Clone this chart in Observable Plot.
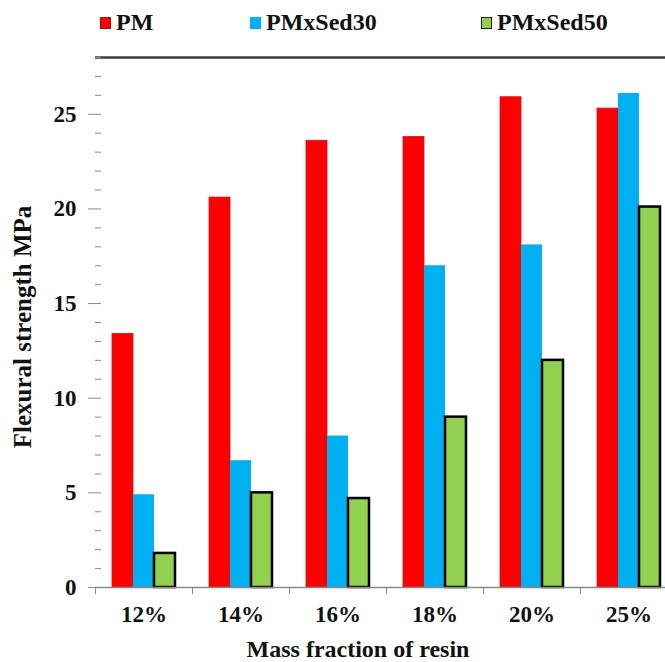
<!DOCTYPE html>
<html>
<head>
<meta charset="utf-8">
<script src="https://cdn.jsdelivr.net/npm/d3@7"></script>
<script src="https://cdn.jsdelivr.net/npm/@observablehq/plot@0.6"></script>
<style>
  html, body { margin: 0; padding: 0; background: #fff; overflow: hidden; }
  #wrap { position: relative; width: 665px; height: 662px; overflow: hidden; font-weight: bold; color: #111; }
  #chart svg { display: block; }
  .legend-item { position: absolute; top: 8px; font-size: 24px; line-height: 28px; white-space: nowrap; }
  .sw { display: inline-block; width: 11px; height: 12px; margin-right: 5px; vertical-align: 1px; box-sizing: border-box; }
  #ytitle { position: absolute; left: 23px; top: 327px; transform: translate(-50%, -50%) rotate(-90deg); font-size: 25px; white-space: nowrap; }
  #xtitle { position: absolute; left: 358px; top: 636px; transform: translateX(-50%); font-size: 24px; white-space: nowrap; }
</style>
</head>
<body>
<div id="wrap" style="font-family:'Liberation Serif'">
  <div id="chart"></div>
  <div id="legend"></div>
  <div id="ytitle" style="font-family:'Liberation Serif'"></div>
  <div id="xtitle" style="font-family:'Liberation Serif'"></div>
</div>
<script>
const categories = ["12%", "14%", "16%", "18%", "20%", "25%"];
const series = ["PM", "PMxSed30", "PMxSed50"];
const pmValues = [13.4, 20.6, 23.6, 23.8, 25.9, 25.3];
const sed30Values = [4.9, 6.7, 8.0, 17.0, 18.1, 26.1];
const sed50Values = [1.8, 5.0, 4.7, 9.0, 12.0, 20.1];
const yMajorTicks = [0, 5, 10, 15, 20, 25];
const yDomain = [0, 28];
const colors = ["#FF0000", "#00B0F0", "#92D050"];
const xTitle = "Mass fraction of resin";
const yTitle = "Flexural strength MPa";

const seriesValues = [pmValues, sed30Values, sed50Values];
const data = categories.flatMap((c, i) =>
  series.map((s, j) => ({category: c, series: s, value: seriesValues[j][i]}))
);

const serif = "Liberation Serif";

const chart = Plot.plot({
  width: 665,
  height: 662,
  marginTop: 57,
  marginBottom: 75,
  marginLeft: 94,
  marginRight: -12,
  style: {background: "transparent", overflow: "visible", fontFamily: serif},
  fx: {domain: categories, padding: 0, axis: null, label: null},
  x: {domain: series, paddingInner: 0, paddingOuter: 0.75, axis: null},
  y: {domain: yDomain, axis: null},
  color: {domain: series, range: colors},
  marks: [
    Plot.ruleY([yDomain[1]], {stroke: "#3a3a3a", strokeWidth: 2.5}),
    Plot.barY(data.filter(d => d.series === "PM"), {fx: "category", x: "series", y: "value", fill: "series", stroke: "#c01818", strokeWidth: 0.8}),
    Plot.barY(data.filter(d => d.series === "PMxSed30"), {fx: "category", x: "series", y: "value", fill: "series"}),
    Plot.barY(data.filter(d => d.series === "PMxSed50"), {fx: "category", x: "series", y: "value", fill: "series", stroke: "#000", strokeWidth: 2.5}),
    Plot.ruleY([0], {stroke: "#888", strokeWidth: 1.5}),
    Plot.ruleX([categories[0]], {fx: d => d, dx: -48.5, stroke: "#888", strokeWidth: 1.5}),
    Plot.axisY({ticks: yMajorTicks, tickSize: 7, tickPadding: 12, stroke: "#888", fontSize: 23, fontWeight: "bold", fill: "#111", fontFamily: serif, label: null}),
    Plot.axisY({interval: 1, tickSize: -6, text: null, stroke: "#888", label: null}),
    Plot.axisFx({anchor: "bottom", tickSize: 0, tickPadding: 18, fontSize: 23, fontWeight: "bold", fill: "#111", fontFamily: serif, label: null}),
    Plot.axisFx({anchor: "bottom", tickSize: 7, text: null, dx: -48.5, stroke: "#888", label: null})
  ]
});
chart.querySelectorAll("text, g").forEach(el => {
  if (el.hasAttribute("font-family") || el.tagName === "text") {
    el.setAttribute("font-family", serif);
    el.style.fontFamily = "'Liberation Serif'";
  }
});
chart.style.fontFamily = "'Liberation Serif'";
document.getElementById("chart").appendChild(chart);

const legendPos = [100, 250, 481];
const legend = document.getElementById("legend");
series.forEach((s, i) => {
  const item = document.createElement("div");
  item.className = "legend-item";
  item.style.left = legendPos[i] + "px";
  item.style.fontFamily = "'Liberation Serif'";
  const sw = document.createElement("span");
  sw.className = "sw";
  sw.style.background = colors[i];
  sw.style.border = i === 2 ? "1.5px solid #222" : (i === 0 ? "1px solid #a01010" : "none");
  item.appendChild(sw);
  item.appendChild(document.createTextNode(s));
  legend.appendChild(item);
});
document.getElementById("xtitle").textContent = xTitle;
document.getElementById("ytitle").textContent = yTitle;
</script>
</body>
</html>
